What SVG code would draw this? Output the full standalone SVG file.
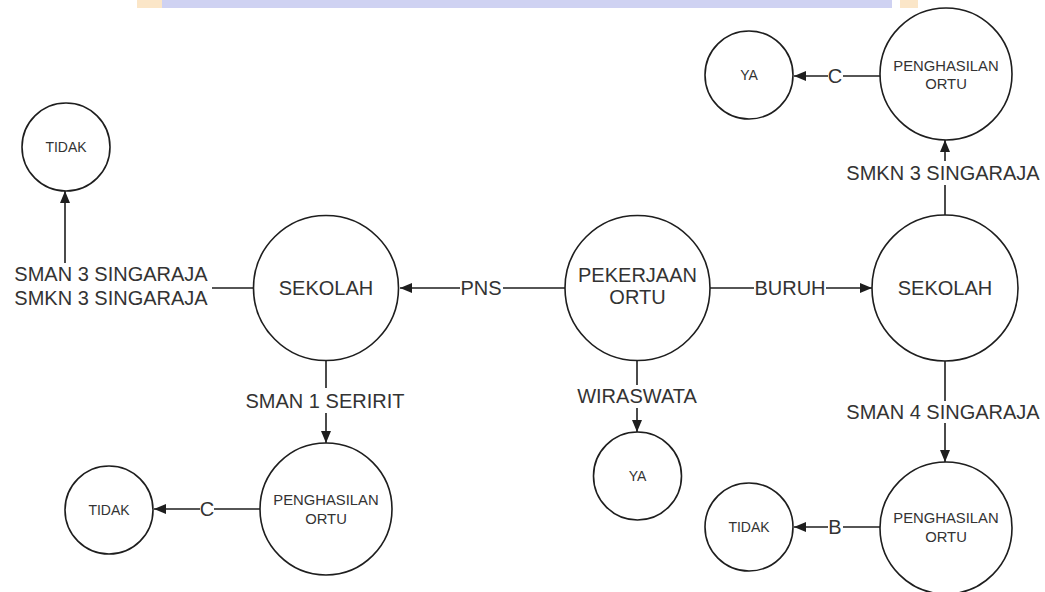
<svg xmlns="http://www.w3.org/2000/svg" width="1045" height="592" viewBox="0 0 1045 592">
<style>
.n{fill:#fff;stroke:#1e1e1e;stroke-width:1.6}
.c{stroke:#1e1e1e;stroke-width:1.6;fill:none}
.t{font-family:"Liberation Sans",Arial,sans-serif;fill:#333;text-anchor:middle}
.big{font-size:20px}
.sm{font-size:14px}
.pg{font-size:14.8px}
</style>
<defs>
<marker id="ah" viewBox="0 0 12 10" refX="12" refY="5" markerWidth="12" markerHeight="10" markerUnits="userSpaceOnUse" orient="auto">
<path d="M0,0 L12,5 L0,10 Z" fill="#1e1e1e"/>
</marker>
</defs>
<rect width="1045" height="592" fill="#fff"/>
<g id="watermark">
<rect x="137" y="0" width="25" height="8" fill="#fbe6c8"/>
<rect x="162" y="0" width="730" height="8" fill="#cfd2f2"/>
<rect x="900" y="0" width="18" height="8" fill="#fbe6c8"/>
</g>
<g id="connectors">
<line class="c" x1="65" y1="263" x2="65" y2="191" marker-end="url(#ah)"/>
<line class="c" x1="212" y1="288" x2="254" y2="288"/>
<line class="c" x1="565" y1="288" x2="503" y2="288"/>
<line class="c" x1="460" y1="288" x2="400" y2="288" marker-end="url(#ah)"/>
<line class="c" x1="710" y1="288" x2="754" y2="288"/>
<line class="c" x1="826" y1="288" x2="872" y2="288" marker-end="url(#ah)"/>
<line class="c" x1="637" y1="360" x2="637" y2="385"/>
<line class="c" x1="637" y1="408" x2="637" y2="432" marker-end="url(#ah)"/>
<line class="c" x1="326" y1="360" x2="326" y2="388"/>
<line class="c" x1="326" y1="413" x2="326" y2="443" marker-end="url(#ah)"/>
<line class="c" x1="260" y1="509" x2="214" y2="509"/>
<line class="c" x1="200" y1="509" x2="154" y2="509" marker-end="url(#ah)"/>
<line class="c" x1="945" y1="360" x2="945" y2="401"/>
<line class="c" x1="945" y1="423" x2="945" y2="462" marker-end="url(#ah)"/>
<line class="c" x1="880" y1="527" x2="843" y2="527"/>
<line class="c" x1="828" y1="527" x2="794" y2="527" marker-end="url(#ah)"/>
<line class="c" x1="945" y1="215" x2="945" y2="185"/>
<line class="c" x1="945" y1="161" x2="945" y2="140" marker-end="url(#ah)"/>
<line class="c" x1="880" y1="76" x2="843" y2="76"/>
<line class="c" x1="828" y1="76" x2="794" y2="76" marker-end="url(#ah)"/>
<text class="t big" x="111" y="281">SMAN 3 SINGARAJA</text>
<text class="t big" x="111" y="305">SMKN 3 SINGARAJA</text>
<text class="t big" x="481" y="295">PNS</text>
<text class="t big" x="790" y="295">BURUH</text>
<text class="t big" x="637" y="403">WIRASWATA</text>
<text class="t big" x="325" y="408">SMAN 1 SERIRIT</text>
<text class="t big" x="207" y="516">C</text>
<text class="t big" x="943" y="419">SMAN 4 SINGARAJA</text>
<text class="t big" x="835" y="534">B</text>
<text class="t big" x="943" y="180">SMKN 3 SINGARAJA</text>
<text class="t big" x="835" y="83">C</text>
</g>
<g id="n-tidak1"><circle class="n" cx="66" cy="147" r="44"/><text class="t sm" x="66" y="152">TIDAK</text></g>
<g id="n-sekolah1"><circle class="n" cx="326" cy="288" r="72.5"/><text class="t big" x="326" y="295">SEKOLAH</text></g>
<g id="n-pekerjaan"><circle class="n" cx="637.5" cy="288" r="72.5"/><text class="t big" x="637.5" y="282">PEKERJAAN</text><text class="t big" x="637.5" y="304">ORTU</text></g>
<g id="n-sekolah2"><circle class="n" cx="945" cy="288" r="73"/><text class="t big" x="945" y="295">SEKOLAH</text></g>
<g id="n-ya-mid"><circle class="n" cx="637.5" cy="476" r="44"/><text class="t sm" x="637.5" y="481">YA</text></g>
<g id="n-peng1"><circle class="n" cx="326" cy="509" r="66"/><text class="t pg" x="326" y="505">PENGHASILAN</text><text class="t pg" x="326" y="524">ORTU</text></g>
<g id="n-tidak2"><circle class="n" cx="109" cy="510" r="44"/><text class="t sm" x="109" y="515">TIDAK</text></g>
<g id="n-peng2"><circle class="n" cx="946" cy="528" r="66"/><text class="t pg" x="946" y="523">PENGHASILAN</text><text class="t pg" x="946" y="542">ORTU</text></g>
<g id="n-tidak3"><circle class="n" cx="749" cy="527" r="44"/><text class="t sm" x="749" y="532">TIDAK</text></g>
<g id="n-peng3"><circle class="n" cx="946" cy="74" r="66"/><text class="t pg" x="946" y="71">PENGHASILAN</text><text class="t pg" x="946" y="89">ORTU</text></g>
<g id="n-ya-top"><circle class="n" cx="749" cy="75" r="44"/><text class="t sm" x="749" y="80">YA</text></g>
</svg>
